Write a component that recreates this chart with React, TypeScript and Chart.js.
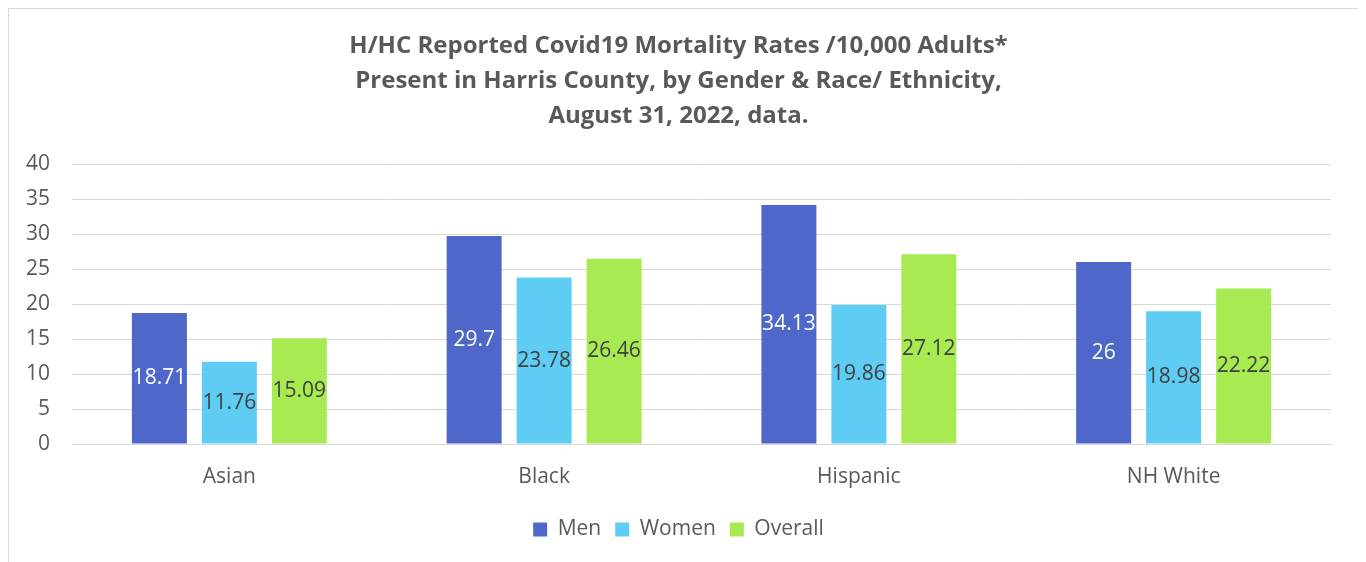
import React, { useEffect, useRef } from "react";
import { Chart, registerables } from "chart.js";

Chart.register(...registerables);

const categories = ["Asian", "Black", "Hispanic", "NH White"];
const men = [18.71, 29.7, 34.13, 26];
const women = [11.76, 23.78, 19.86, 18.98];
const overall = [15.09, 26.46, 27.12, 22.22];
const titleLines = [
  "H/HC Reported Covid19 Mortality Rates /10,000 Adults*",
  "Present in Harris County, by Gender & Race/ Ethnicity,",
  "August 31, 2022, data.",
];

const FONT = "'Open Sans', sans-serif";

const labelPlugin = {
  id: "barLabels",
  afterDatasetsDraw(chart: any) {
    const ctx = chart.ctx;
    ctx.save();
    ctx.font = `21px ${FONT}`;
    ctx.textAlign = "center";
    ctx.textBaseline = "middle";
    chart.data.datasets.forEach((ds: any, i: number) => {
      const meta = chart.getDatasetMeta(i);
      meta.data.forEach((bar: any, j: number) => {
        const v = ds.data[j];
        ctx.fillStyle = i === 0 ? "#ffffff" : "#404040";
        ctx.fillText(String(v), bar.x, (bar.y + bar.base) / 2);
      });
    });
    ctx.restore();
  },
};

export default function App() {
  const ref = useRef<HTMLCanvasElement>(null);
  useEffect(() => {
    if (!ref.current) return;
    const chart = new Chart(ref.current, {
      type: "bar",
      data: {
        labels: categories,
        datasets: [
          { label: "Men", data: men, backgroundColor: "#4E67C8" },
          { label: "Women", data: women, backgroundColor: "#5ECCF3" },
          { label: "Overall", data: overall, backgroundColor: "#A7EA52" },
        ],
      },
      options: {
        animation: false,
        responsive: true,
        maintainAspectRatio: false,
        layout: { padding: { left: 17, right: 27, top: 8, bottom: 37 } },
        datasets: {
          bar: { categoryPercentage: 0.667, barPercentage: 0.786 },
        },
        scales: {
          x: {
            grid: { display: false, drawTicks: false },
            border: { color: "#d9d9d9" },
            ticks: { color: "#595959", font: { family: FONT, size: 21 }, padding: 20 },
            afterFit: (s: any) => {
              s.height = 61;
            },
          },
          y: {
            min: 0,
            max: 40,
            ticks: { stepSize: 5, color: "#595959", font: { family: FONT, size: 21 }, padding: 22 },
            grid: { color: "#d9d9d9", drawTicks: false },
            border: { display: false },
            afterFit: (s: any) => {
              s.width = 46;
            },
          },
        },
        plugins: {
          title: {
            display: true,
            text: titleLines,
            color: "#595959",
            font: { family: FONT, size: 24, weight: "bold", lineHeight: "35px" as any },
            padding: { top: 12, bottom: 30 },
          },
          legend: {
            position: "bottom",
            labels: {
              boxWidth: 14,
              boxHeight: 14,
              color: "#595959",
              font: { family: FONT, size: 21 },
              padding: 14,
            },
          },
          tooltip: { enabled: false },
        },
      },
      plugins: [labelPlugin],
    });
    return () => chart.destroy();
  }, []);
  return (
    <div
      style={{
        width: 1351,
        height: 580,
        border: "1px solid #d9d9d9",
        boxSizing: "border-box",
        position: "relative",
        background: "#fff",
      }}
    >
      <canvas ref={ref} />
    </div>
  );
}
